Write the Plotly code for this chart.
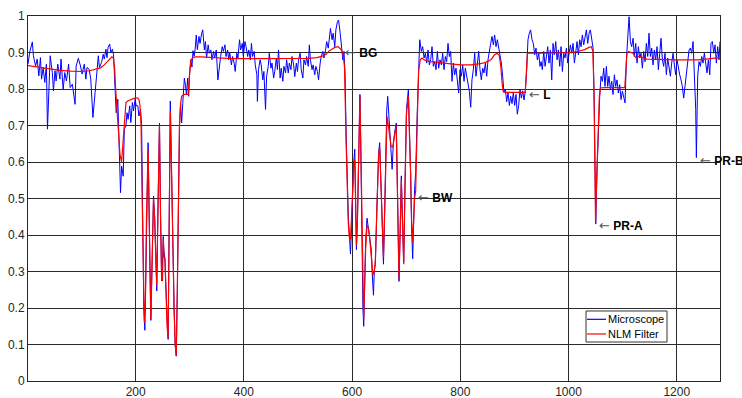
import plotly.graph_objects as go

# ---------------- data ----------------
# Microscope signal, segment by segment
mic_x1 = [1,4,9,11,15,18,21,24,26,29,32,35,37,40,42,46,48,51,53,56,60,62,66,69,72,76,79,83,85,88,
          90,94,98,101,105,108,110,114,117,121,125,127,131,133,137,140,142,145,147,149,152,154,157,159,162,164,167,169,172,174,
          177,179,182,184,186,189,191,194,196,199,201,204,206,209]
mic_y1 = [0.868,0.900,0.929,0.891,0.863,0.882,0.836,0.886,0.827,0.859,0.818,0.868,0.690,0.818,0.891,0.845,0.795,0.850,0.822,0.868,
          0.827,0.882,0.799,0.845,0.822,0.868,0.804,0.813,0.795,0.758,0.863,0.884,0.863,0.841,0.868,0.827,0.859,0.854,0.827,0.722,
          0.790,0.818,0.891,0.859,0.873,0.895,0.882,0.909,0.886,0.914,0.923,0.900,0.909,0.895,0.809,0.735,0.772,0.662,0.516,0.589,
          0.561,0.690,0.699,0.735,0.717,0.754,0.708,0.763,0.740,0.772,0.754,0.754,0.726,0.744]

mic_x2 = [211,213,215,217,219,221,223,225,227,228,230,232,233,235,237,239,241,243,244,246,
          248,250,251,252,254,256,258,260,262,264,266,268,271,273,275,277,279,281,283,285,
          287,289,290,292,294,296,298,300,302,304,306,308]
mic_y2 = [0.70,0.45,0.20,0.139,0.30,0.55,0.653,0.45,0.20,0.166,0.30,0.46,0.507,0.45,0.33,0.247,0.45,0.65,0.706,0.45,
          0.274,0.34,0.396,0.36,0.335,0.25,0.15,0.114,0.45,0.767,0.60,0.40,0.20,0.10,0.068,0.25,0.50,0.70,0.76,0.707,
          0.76,0.80,0.83,0.81,0.785,0.83,0.78,0.85,0.88,0.86,0.905,0.89]

mic_x3 = [310,312,314,317,319,322,324,327,329,331,334,336,339,341,344,346,349,352,355,357,
          360,362,365,367,370,372,374,377,379,382,384,387,389,392,394,397,399,402,404,407,
          409,412,414,416,419,421,424,425,427,430,432,435,437,440,442,445,447,450,452,455,
          457,460,462,464,467,469,472,474,477,479,482,484,487,489,492,494,497,499,501,504,
          506,509,511,514,516,519,521,523,526,528,531,533,536,538,541,543,546,548,551,553,
          556,558,560,563,565,568,570,573,575,578,580,583,585]
mic_y3 = [0.910,0.948,0.908,0.944,0.925,0.953,0.962,0.907,0.930,0.885,0.921,0.898,0.907,0.880,0.903,0.885,0.907,0.825,0.870,0.889,
          0.916,0.903,0.921,0.889,0.907,0.880,0.898,0.866,0.889,0.871,0.848,0.898,0.885,0.935,0.907,0.925,0.889,0.930,0.916,0.889,
          0.907,0.880,0.925,0.889,0.903,0.866,0.839,0.766,0.853,0.880,0.866,0.825,0.848,0.744,0.835,0.862,0.898,0.857,0.871,0.830,
          0.848,0.885,0.853,0.907,0.830,0.857,0.821,0.862,0.844,0.880,0.844,0.871,0.853,0.889,0.866,0.834,0.871,0.848,0.880,0.898,
          0.853,0.830,0.880,0.866,0.889,0.862,0.921,0.880,0.853,0.866,0.839,0.862,0.848,0.825,0.871,0.889,0.903,0.885,0.907,0.930,
          0.912,0.944,0.966,0.935,0.953,0.916,0.962,0.985,0.989,0.953,0.925,0.880,0.903]

mic_x4 = [587,589,591,593,595,597,599,601,603,605,606.5,608,610,612,614.5,616,618,620,621.5,623,
          625,627.6,630,632,634,635.5,637,639.5,641,643,645,647,649,651,653.5,655.5,658,660,662,664,
          665.8,668,670,672,674,676,678.5,681.8,684,686.7,689,691,693,695.4,698,700.5,704,706,708.3,710,
          712,715.5,717.5,720.6,723,725,728]
mic_y4 = [0.840,0.680,0.550,0.450,0.400,0.348,0.420,0.520,0.600,0.635,0.500,0.360,0.450,0.650,0.785,0.650,0.400,0.200,0.150,0.250,
          0.380,0.446,0.420,0.400,0.380,0.360,0.300,0.235,0.300,0.320,0.430,0.550,0.625,0.653,0.550,0.470,0.320,0.450,0.635,0.740,
          0.780,0.716,0.660,0.620,0.580,0.644,0.680,0.707,0.500,0.273,0.420,0.562,0.450,0.325,0.550,0.744,0.798,0.700,0.562,0.420,
          0.335,0.525,0.571,0.744,0.871,0.935,0.903]

mic_x5 = [730.5,733,735.4,737.9,740.3,742.8,745.3,747.7,750.2,752.7,755.1,757.6,760,762.5,765,767.4,769.9,772.4,774.8,777.3,
          779.8,782.2,784.7,787.2,789.6,792.1,794.5,797,799.5,801.9,804.4,806.9,809.3,811.8,814.3,816.7,819.2,821.6,824.1,826.6,
          829,831.5,834,836.4,838.9,841.4,843.8,846.3,848.8,851.2,853.7,856.2,858.6,861.1,863.5,866,868.5,870.9,873.4,875.9,
          878.3,880.8,883.3,885.7,888.2,890.7,893.1,895.6,898,900.5,903,905.4,907.9,910.4,912.8,915.3,917.8,920.2,922.7,925.1,
          927.6,930,932.5,935,937.5,939.9,942.4,944.9,947.3]
mic_y5 = [0.916,0.885,0.898,0.871,0.907,0.866,0.880,0.916,0.862,0.875,0.853,0.903,0.857,0.880,0.866,0.898,0.853,0.889,0.875,0.925,
          0.889,0.903,0.821,0.871,0.839,0.857,0.812,0.789,0.853,0.835,0.866,0.821,0.857,0.835,0.816,0.794,0.750,0.825,0.853,0.898,
          0.835,0.871,0.903,0.853,0.825,0.857,0.844,0.871,0.835,0.880,0.898,0.925,0.944,0.921,0.948,0.916,0.935,0.912,0.898,0.871,
          0.835,0.790,0.800,0.765,0.790,0.755,0.780,0.760,0.790,0.755,0.785,0.731,0.755,0.800,0.775,0.795,0.770,0.795,0.853,0.935,
          0.953,0.962,0.935,0.925,0.894,0.912,0.880,0.898,0.862]

mic_x6 = [949.3,951.7,954.2,956.7,959.1,961.6,964,966.5,969,971.4,973.9,976.4,978.8,981.3,983.8,986.2,988.7,991.2,993.6,996.1,
          998.5,1001,1003.5,1005.9,1008.4,1010.9,1013.3,1015.8,1018.3,1020.7,1023.2,1025.6,1028.1,1030.6,1033,1035.5,1038,1040.4,1042.9,1045.4,
          1047.8,1050.3,1052.8,1055.2,1057.7,1060.1,1062.6,1065.1,1067.5,1070,1072.5,1074.9,1077.4,1079.9,1082.3,1084.8,1087.2,1089.7,1092.2,1094.6,
          1097.1,1099.6,1102,1104.5,1107,1109.4,1111.9,1114.4,1116.8,1119.3,1121.7,1124.2,1126.7,1129.1,1131.6,1134.1,1136.5,1139,1141.5,1143.9,
          1146.4,1148.8,1151.3,1153.8,1156.2,1158.7,1161.2,1163.6,1166.1,1168.6,1171,1173.5,1175.9,1178.4,1180.9,1183.3,1185.8,1188.3,1190.7,1193.2,
          1195.7,1198.1,1200.6,1203.1,1205.5,1208,1210.4,1212.9,1215.4,1217.8,1220.3,1222.8,1225.2,1227.7,1230.2,1232.6,1235.1,1236.3,1238.8,1241.2,
          1243.7,1246.2,1248.6,1251.1,1253.6,1256,1258.5,1261,1263.4,1265.9,1268.4,1270.8,1273.3,1275.7,1278.2,1280]
mic_y6 = [0.875,0.853,0.903,0.862,0.889,0.916,0.871,0.907,0.825,0.925,0.894,0.930,0.880,0.907,0.862,0.916,0.848,0.898,0.885,0.912,
          0.871,0.898,0.921,0.898,0.925,0.871,0.907,0.930,0.894,0.935,0.916,0.948,0.921,0.944,0.962,0.925,0.953,0.962,0.939,0.912,
          0.744,0.430,0.580,0.698,0.780,0.835,0.821,0.857,0.807,0.862,0.807,0.835,0.798,0.821,0.785,0.839,0.807,0.825,0.789,0.812,
          0.771,0.794,0.780,0.762,0.880,0.935,0.998,0.930,0.916,0.939,0.889,0.925,0.871,0.916,0.885,0.898,0.857,0.903,0.875,0.925,
          0.889,0.953,0.889,0.912,0.866,0.907,0.880,0.916,0.853,0.898,0.939,0.880,0.862,0.898,0.839,0.885,0.857,0.835,0.871,0.898,
          0.866,0.839,0.880,0.853,0.839,0.825,0.807,0.775,0.812,0.835,0.880,0.907,0.912,0.898,0.930,0.835,0.744,0.612,0.835,0.875,
          0.862,0.889,0.871,0.898,0.866,0.844,0.880,0.839,0.925,0.930,0.898,0.921,0.871,0.916,0.880,0.930]

# NLM filtered signal
nlm_x = [1,20,40,60,80,100,115,125,135,142,148,153,156,159,161,163,165,168,171,174,176,178,180,182,186,192,198,203,206,208,
         210,212,214,216,218,220,223,225,227,228,230,233,235,237,239,241,243,244,246,248,249.5,251,252.5,254,256,258,260,262,264,266,
         268,271,273,275,277,279,281,283,285,289,297,299,302,306,310,320,340,370,400,450,500,520,535,545,552,558,562,568,574,579,
         583,586,589,591,593,595.5,597,599,601,603,605,606.5,608,610,612,614.5,616,618,620,621.5,623,625,627.6,630,632,634,636,638.5,
         641,643,645,647,649,651,653.5,655.5,658,660,662,664.6,667,670,672,675,678,681.5,684,686.7,689,691,693,695.4,698,700.5,
         704,706,708.3,710,712,715.5,717.5,720.6,723,726,729,735,745,770,800,820,840,850,857,863,868,872,875,877,879,884,
         920,922,924,960,990,1000,1015,1030,1038,1042,1045,1047,1048.5,1050,1052,1055,1057,1059,1070,1104,1106,1108,1111,1119,1125,1131,
         1145,1160,1200,1240,1260,1280]
nlm_y = [0.864,0.860,0.855,0.851,0.849,0.848,0.850,0.853,0.858,0.866,0.876,0.885,0.888,0.884,0.860,0.800,0.760,0.680,0.620,0.600,
         0.640,0.690,0.740,0.763,0.768,0.772,0.775,0.776,0.772,0.755,0.700,0.500,0.280,0.160,0.220,0.450,0.635,0.450,0.220,0.170,
         0.300,0.500,0.450,0.340,0.260,0.450,0.650,0.700,0.450,0.280,0.274,0.390,0.340,0.335,0.250,0.150,0.120,0.450,0.740,0.600,
         0.400,0.200,0.100,0.070,0.250,0.500,0.700,0.760,0.780,0.785,0.785,0.830,0.880,0.886,0.888,0.888,0.886,0.884,0.883,0.883,
         0.883,0.884,0.886,0.890,0.895,0.905,0.908,0.914,0.916,0.909,0.900,0.860,0.650,0.520,0.430,0.385,0.390,0.450,0.530,0.590,
         0.607,0.500,0.370,0.450,0.650,0.780,0.650,0.420,0.220,0.170,0.250,0.360,0.425,0.420,0.400,0.370,0.330,0.290,0.300,0.330,
         0.430,0.550,0.620,0.640,0.550,0.460,0.340,0.450,0.600,0.725,0.700,0.655,0.644,0.640,0.670,0.700,0.500,0.280,0.420,0.550,
         0.440,0.320,0.550,0.730,0.780,0.700,0.560,0.440,0.380,0.500,0.520,0.720,0.850,0.880,0.885,0.878,0.875,0.871,0.866,0.866,
         0.870,0.875,0.881,0.893,0.898,0.892,0.860,0.820,0.794,0.791,0.791,0.840,0.898,0.898,0.898,0.900,0.902,0.908,0.914,0.916,
         0.905,0.800,0.620,0.434,0.550,0.700,0.780,0.803,0.804,0.804,0.860,0.898,0.903,0.898,0.885,0.889,0.882,0.881,0.880,0.880,
         0.882,0.886]

# axis ticks, legend and annotations
x_ticks = [200, 400, 600, 800, 1000, 1200]
y_ticks = [0, 0.1, 0.2, 0.3, 0.4, 0.5, 0.6, 0.7, 0.8, 0.9, 1]
y_tick_text = ["0", "0.1", "0.2", "0.3", "0.4", "0.5", "0.6", "0.7", "0.8", "0.9", "1"]
series_names = ["Microscope", "NLM Filter"]
series_colors = ["#0000ff", "#ff0000"]
label_names = ["BG", "BW", "L", "PR-A", "PR-B"]
label_x = [583, 719, 923, 1052, 1239]
label_y = [0.899, 0.504, 0.784, 0.425, 0.604]

mic_x = mic_x1 + mic_x2 + mic_x3 + mic_x4 + mic_x5 + mic_x6
mic_y = mic_y1 + mic_y2 + mic_y3 + mic_y4 + mic_y5 + mic_y6

FONT = "Liberation Sans, Arial, Helvetica, sans-serif"

fig = go.Figure()
fig.add_trace(go.Scatter(x=mic_x, y=mic_y, mode="lines", name=series_names[0],
                         line=dict(color=series_colors[0], width=1), showlegend=False))
fig.add_trace(go.Scatter(x=nlm_x, y=nlm_y, mode="lines", name=series_names[1],
                         line=dict(color=series_colors[1], width=1.2), showlegend=False))

for name, lx, ly in zip(label_names, label_x, label_y):
    fig.add_annotation(x=lx, y=ly, xref="x", yref="y",
                       text="<span style='font-family:DejaVu Sans;font-size:13px;color:#555555'>\u2190</span> <b>" + name + "</b>",
                       showarrow=False, xanchor="left", yanchor="middle",
                       font=dict(family=FONT, size=12, color="#000000"))

# compact MATLAB-style legend box (lower right, inside the axes)
lg_x0, lg_x1, lg_y0, lg_y1 = 0.8064, 0.9234, 0.1068, 0.1918
row_y = [0.169, 0.1288]
fig.add_shape(type="rect", xref="paper", yref="paper", x0=lg_x0, x1=lg_x1, y0=lg_y0, y1=lg_y1,
              line=dict(color="#333333", width=1), fillcolor="white", layer="above")
for name, col, ry in zip(series_names, series_colors, row_y):
    fig.add_shape(type="line", xref="paper", yref="paper", x0=0.8078, x1=0.8353, y0=ry, y1=ry,
                  line=dict(color=col, width=1.2), layer="above")
    fig.add_annotation(x=0.8350, y=ry, xref="paper", yref="paper", text=name, showarrow=False,
                       xanchor="left", yanchor="middle",
                       font=dict(family=FONT, size=11, color="#000000"))

fig.update_layout(
    width=742, height=398,
    margin=dict(l=28, r=22, t=16, b=17, pad=0, autoexpand=False),
    paper_bgcolor="white", plot_bgcolor="white",
    font=dict(family=FONT, size=12, color="#262626"),
    showlegend=False,
)
fig.update_xaxes(range=[1, 1280], tickvals=x_ticks, showgrid=True, automargin=False,
                 gridcolor="#2a2a2a", gridwidth=1.3, showline=True, mirror=True,
                 linecolor="#262626", linewidth=1, zeroline=False, ticks="",
                 tickfont=dict(size=12, color="#262626"))
fig.update_yaxes(range=[0, 1], tickvals=y_ticks, ticktext=y_tick_text, showgrid=True, automargin=False,
                 gridcolor="#2a2a2a", gridwidth=1.3, showline=True, mirror=True,
                 linecolor="#262626", linewidth=1, zeroline=False, ticks="",
                 tickfont=dict(size=12, color="#262626"))

fig.write_html("out.html", config={"displayModeBar": False},
               post_script="document.body.style.margin='0px';")
